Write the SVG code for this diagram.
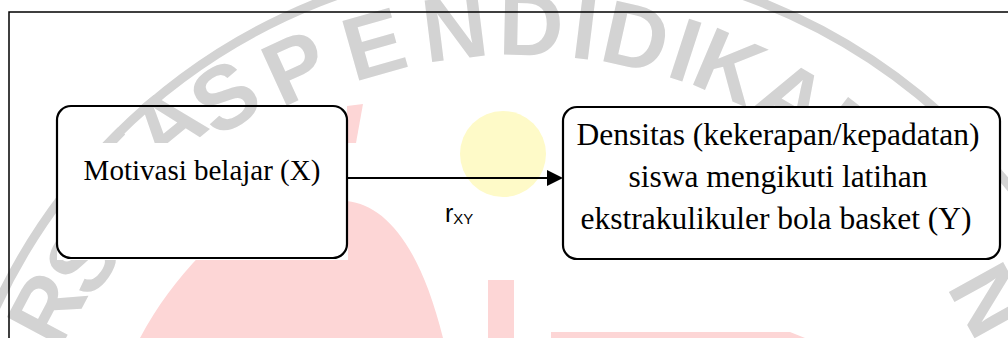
<svg xmlns="http://www.w3.org/2000/svg" width="1008" height="338" viewBox="0 0 1008 338">
  <style>
    .wm { font-family: "Liberation Sans", Arial, sans-serif; font-size: 90px; font-weight: bold; fill: #d3d3d3; text-anchor: middle; }
    .pink { fill: #fdd6d6; }
    .box { stroke: #000; stroke-width: 2.2; }
    .serif { font-family: "Liberation Serif", "Times New Roman", serif; fill: #000; text-anchor: middle; }
    .conn { stroke: #000; stroke-width: 2; fill: none; }
  </style>
  <defs>
    <marker id="arrow" markerUnits="userSpaceOnUse" markerWidth="16" markerHeight="16" refX="2" refY="8" orient="auto">
      <path d="M0,0 L16,8 L0,16 Z" fill="#000"/>
    </marker>
  </defs>
  <rect width="1008" height="338" fill="#fff"/>

  <!-- watermark -->
  <g id="watermark">
    <circle cx="540" cy="560" r="600" fill="none" stroke="#d3d3d3" stroke-width="9"/>
    <text class="wm" x="520" y="55" transform="rotate(-62 520 560)">R</text>
    <text class="wm" x="520" y="60" transform="rotate(-55.5 520 560)">S</text>
    <text class="wm" x="520" y="35" transform="rotate(-50.5 520 560)">I</text>
    <text class="wm" x="520" y="32" transform="rotate(-45.5 520 560)">T</text>
    <text class="wm" x="520" y="30" transform="rotate(-39 520 560)">A</text>
    <text class="wm" x="520" y="42" transform="rotate(-32.5 520 560)">S</text>
    <text class="wm" x="520" y="50" transform="rotate(-24.5 520 560)">P</text>
    <text class="wm" x="520" y="55" transform="rotate(-15.8 520 560)">E</text>
    <text class="wm" x="520" y="55" transform="rotate(-7 520 560)">N</text>
    <text class="wm" x="520" y="55" transform="rotate(1.2 520 560)">D</text>
    <text class="wm" x="520" y="55" transform="rotate(7 520 560)">I</text>
    <text class="wm" x="520" y="55" transform="rotate(12.5 520 560)">D</text>
    <text class="wm" x="520" y="55" transform="rotate(18 520 560)">I</text>
    <text class="wm" x="520" y="55" transform="rotate(23 520 560)">K</text>
    <text class="wm" x="520" y="55" transform="rotate(30.5 520 560)">A</text>
    <text class="wm" x="520" y="55" transform="rotate(38 520 560)">N</text>
    <text class="wm" x="520" y="55" transform="rotate(49 520 560)">I</text>
    <text class="wm" x="520" y="55" transform="rotate(61 520 560)">N</text>
    <path class="pink" d="M140,338 C160,300 185,270 215,240 L300,190 C320,195 335,200 347,201 C385,205 420,245 443,338 Z"/>
    <path class="pink" d="M347,106 L363,104 L356,143 L347,143 Z"/>
    <rect class="pink" x="488" y="280" width="26" height="58"/>
    <path class="pink" d="M551,332 L790,332 L805,338 L551,338 Z"/>
    <circle cx="503" cy="154" r="43" fill="#fefac8"/>
    <rect x="57" y="143" width="291" height="117" fill="#fff"/>
  </g>

  <!-- frame -->
  <path d="M9,338 V12 H1008" fill="none" stroke="#000" stroke-width="1.5"/>

  <!-- connectors -->
  <g id="connectors">
    <line class="conn" x1="347" y1="178" x2="549" y2="178" marker-end="url(#arrow)"/>
    <text x="445" y="222" font-family="Liberation Sans, Arial, sans-serif" font-size="25" fill="#000">r<tspan font-size="15" dy="2">XY</tspan></text>
  </g>

  <!-- node X -->
  <g id="node-x">
    <rect class="box" x="57" y="106" width="290" height="152" rx="14" ry="14" fill="none"/>
    <text class="serif" x="202" y="180" font-size="29">Motivasi belajar (X)</text>
  </g>

  <!-- node Y -->
  <g id="node-y">
    <rect class="box" x="563" y="107" width="437" height="152" rx="14" ry="14" fill="#fff"/>
    <text class="serif" x="778" y="145" font-size="31.5">Densitas (kekerapan/kepadatan)</text>
    <text class="serif" x="778" y="187" font-size="31.5">siswa mengikuti latihan</text>
    <text class="serif" x="776" y="229" font-size="31.5">ekstrakulikuler bola basket (Y)</text>
  </g>
</svg>
